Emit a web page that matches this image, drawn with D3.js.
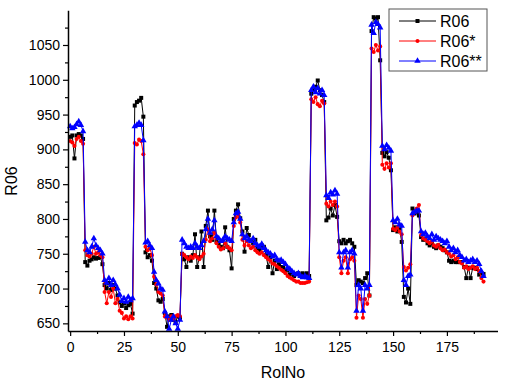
<!DOCTYPE html>
<html>
<head>
<meta charset="utf-8">
<script src="https://cdn.jsdelivr.net/npm/d3@7"></script>
<style>
  html, body { margin: 0; padding: 0; background: #fff; }
  #chart { width: 506px; height: 383px; }
  text { font-family: "Liberation Sans", Arial, sans-serif; fill: #000; }
</style>
</head>
<body>
<div id="chart"></div>
<script>
// R06 values per RoI number (index = RolNo, 0..192)
const r06 = [
  918, 920, 887, 920, 922, 920, 915, 738, 733, 740,
  742, 745, 743, 744, 745, 735, 705, 700, 708, 698,
  705, 700, 690, 680, 675, 679, 672, 676, 678, 664,
  963, 968, 970, 974, 947, 752, 745, 748, 740, 708,
  700, 683, 681, 685, 665, 645, 660, 662, 655, 652,
  660, 658, 750, 742, 731, 745, 740, 748, 778, 731,
  745, 782, 731, 790, 812, 775, 770, 812, 768, 765,
  760, 758, 788, 760, 755, 729, 800, 812, 821, 801,
  782, 753, 787, 777, 768, 765, 770, 758, 755, 762,
  760, 748, 731, 745, 722, 740, 728, 735, 731, 730,
  725, 727, 720, 722, 718, 721, 722, 720, 722, 720,
  722, 718, 980, 985, 990, 999, 985, 978, 968, 798,
  802, 815, 805, 820, 803, 768, 765, 770, 765, 768,
  770, 765, 760, 705, 712, 710, 708, 715, 722, 690,
  1070, 1090, 1088, 1090, 1028, 895, 890, 896, 888, 870,
  784, 788, 782, 786, 767, 688, 680, 700, 678, 815,
  808, 810, 805, 774, 770, 772, 765, 762, 765, 760,
  758, 762, 760, 758, 755, 752, 740, 738, 740, 738,
  738, 738, 738, 731, 715, 730, 715, 730, 730, 728,
  720, 722, 721
];

const r06s = [
  912, 910, 905, 915, 918, 912, 908, 755, 748, 746,
  750, 760, 750, 752, 748, 745, 695, 679, 695, 688,
  700, 679, 685, 668, 665, 657, 660, 656, 660, 657,
  909, 907, 914, 912, 893, 760, 755, 758, 748, 717,
  706, 695, 693, 690, 660, 658, 655, 660, 656, 660,
  662, 660, 750, 748, 745, 742, 746, 744, 748, 745,
  742, 746, 750, 770, 785, 768, 772, 780, 765, 760,
  756, 758, 765, 760, 758, 755, 790, 802, 806, 795,
  770, 762, 768, 762, 758, 760, 755, 752, 750, 752,
  748, 745, 742, 740, 736, 735, 732, 730, 727, 725,
  722, 718, 716, 714, 712, 710, 710, 708, 708, 708,
  709, 710, 972, 968, 975, 965, 962, 970, 966, 822,
  818, 825, 820, 825, 818, 745, 722, 740, 745, 722,
  742, 745, 740, 658, 690, 685, 658, 685, 678, 690,
  1045, 1040, 1050, 1042, 1048, 878, 872, 880, 874, 880,
  786, 784, 788, 782, 778, 731, 726, 730, 735, 805,
  810, 815, 820, 777, 772, 770, 768, 765, 768, 762,
  760, 763, 758, 755, 756, 752, 750, 746, 748, 742,
  745, 738, 736, 730, 732, 728, 730, 732, 728, 730,
  725, 715, 710
];

const r06ss = [
  933, 930, 932, 936, 940, 935, 926, 767, 755, 752,
  760, 772, 762, 758, 755, 750, 712, 708, 715, 705,
  712, 706, 700, 691, 682, 686, 681, 688, 683, 686,
  933, 935, 938, 935, 913, 766, 768, 762, 758, 724,
  712, 707, 700, 698, 667, 660, 642, 655, 660, 650,
  642, 655, 770, 765, 760, 758, 760, 758, 765, 760,
  758, 762, 768, 785, 800, 780, 785, 798, 775, 772,
  768, 770, 775, 772, 770, 768, 795, 808, 810, 800,
  778, 772, 775, 770, 768, 772, 765, 762, 760, 764,
  758, 755, 752, 750, 746, 748, 742, 740, 741, 738,
  735, 730, 728, 725, 722, 720, 722, 718, 716, 718,
  716, 715, 985, 990, 982, 988, 980, 985, 978, 834,
  830, 838, 835, 841, 836, 752, 730, 752, 755, 730,
  752, 755, 750, 668, 705, 700, 668, 705, 700, 705,
  1079, 1067, 1083, 1080, 1075, 905, 900, 906, 902, 898,
  798, 795, 800, 792, 790, 712, 705, 718, 720, 808,
  810, 812, 812, 782, 778, 780, 775, 772, 778, 770,
  775, 772, 770, 768, 765, 768, 760, 755, 758, 752,
  755, 748, 745, 740, 742, 738, 740, 742, 738, 740,
  735, 725, 718
];

const seriesNames = ["R06", "R06*", "R06**"];
const seriesColors = ["#000000", "#ff0000", "#0000ff"];
const seriesShapes = [d3.symbolSquare, d3.symbolCircle, d3.symbolTriangle];
const seriesSizes = [16, 13, 18];

const xMajor = [0, 25, 50, 75, 100, 125, 150, 175];
const xMinor = [12.5, 37.5, 62.5, 87.5, 112.5, 137.5, 162.5, 187.5];
const yMajor = [650, 700, 750, 800, 850, 900, 950, 1000, 1050];
const yMinor = [675, 725, 775, 825, 875, 925, 975, 1025, 1075];

function drawChart() {
  const width = 506, height = 383;
  const svg = d3.select("#chart").append("svg")
    .attr("width", width)
    .attr("height", height);

  const x = d3.scaleLinear().domain([-1, 198.5]).range([68, 497.5]);
  const y = d3.scaleLinear().domain([639, 1100]).range([331, 10.2]);

  const data = [r06, r06s, r06ss];

  // series: lines then markers, black first, blue on top
  data.forEach((vals, s) => {
    const pts = vals.map((v, i) => ({ i, v }));
    const line = d3.line().x(d => x(d.i)).y(d => y(d.v));
    svg.append("path")
      .datum(pts)
      .attr("fill", "none")
      .attr("stroke", seriesColors[s])
      .attr("stroke-width", 1)
      .attr("d", line);
    svg.append("g")
      .selectAll("path")
      .data(pts)
      .join("path")
      .attr("transform", d => `translate(${x(d.i)},${y(d.v)})`)
      .attr("d", d3.symbol().type(seriesShapes[s]).size(seriesSizes[s]))
      .attr("fill", seriesColors[s]);
  });

  // axes
  const xAxis = svg.append("g")
    .attr("transform", `translate(0,331)`)
    .call(d3.axisBottom(x).tickValues(xMajor).tickSize(5).tickSizeOuter(0).tickPadding(6).tickFormat(d3.format("d")));
  xAxis.selectAll("text").style("font-size", "14px");
  svg.append("g")
    .attr("transform", `translate(0,331)`)
    .call(d3.axisBottom(x).tickValues(xMinor).tickSize(3).tickSizeOuter(0).tickFormat(""))
    .select(".domain").remove();

  const yAxis = svg.append("g")
    .attr("transform", `translate(68,0)`)
    .call(d3.axisLeft(y).tickValues(yMajor).tickSize(5).tickSizeOuter(0).tickPadding(3).tickFormat(d3.format("d")));
  yAxis.selectAll("text").style("font-size", "14px");
  svg.append("g")
    .attr("transform", `translate(68,0)`)
    .call(d3.axisLeft(y).tickValues(yMinor).tickSize(3).tickSizeOuter(0).tickFormat(""))
    .select(".domain").remove();

  svg.selectAll(".domain").attr("stroke-width", 1.5);
  svg.selectAll(".tick line").attr("stroke-width", 1.2);

  svg.append("text")
    .attr("x", 283)
    .attr("y", 378)
    .attr("text-anchor", "middle")
    .style("font-size", "16px")
    .text("RolNo");

  svg.append("text")
    .attr("transform", "translate(17,181) rotate(-90)")
    .attr("text-anchor", "middle")
    .style("font-size", "16px")
    .text("R06");

  // legend
  const legend = svg.append("g").attr("transform", "translate(389,9)");
  legend.append("rect")
    .attr("width", 98)
    .attr("height", 62)
    .attr("fill", "#fff")
    .attr("stroke", "#555")
    .attr("stroke-width", 1);
  seriesNames.forEach((name, s) => {
    const ly = 12 + s * 20;
    legend.append("line")
      .attr("x1", 10).attr("x2", 47)
      .attr("y1", ly).attr("y2", ly)
      .attr("stroke", seriesColors[s])
      .attr("stroke-width", 1);
    legend.append("path")
      .attr("transform", `translate(28.5,${ly})`)
      .attr("d", d3.symbol().type(seriesShapes[s]).size(seriesSizes[s]))
      .attr("fill", seriesColors[s]);
    legend.append("text")
      .attr("x", 51)
      .attr("y", ly + 6)
      .style("font-size", "16px")
      .text(name);
  });
}

drawChart();
</script>
</body>
</html>
